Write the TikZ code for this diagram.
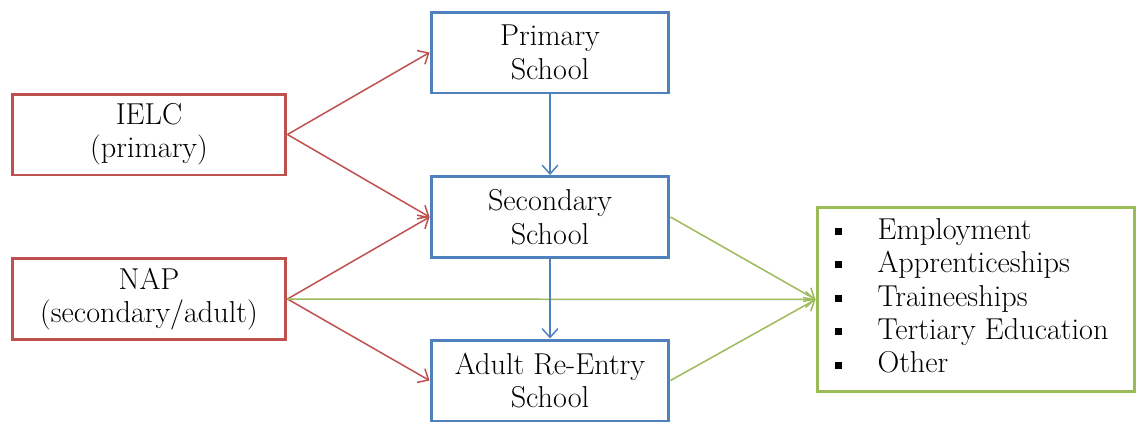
\documentclass[tikz,border=0pt]{standalone}
\usetikzlibrary{arrows.meta}
\definecolor{rd}{RGB}{192,80,77}
\definecolor{bl}{RGB}{79,129,189}
\definecolor{gr}{RGB}{155,187,89}
\begin{document}
\begin{tikzpicture}[x=0.02cm,y=-0.02cm,
  txt/.style={font=\fontsize{17.2}{19}\selectfont},
  box/.style={txt, draw, line width=1.7pt, fill=white, align=center, minimum height=1.62cm, inner sep=2pt},
  redbox/.style={box, draw=rd, minimum width=5.48cm},
  bluebox/.style={box, draw=bl, minimum width=4.76cm},
  greenbox/.style={draw=gr, line width=1.7pt, minimum width=6.36cm, minimum height=3.7cm},
  conn/.style={line width=0.85pt, -{Straight Barb[length=5pt,width=9pt]}},
  rarr/.style={conn, draw=rd},
  barr/.style={conn, draw=bl},
  garr/.style={conn, draw=gr}]
\useasboundingbox (0,0) rectangle (1138,423);
\node[redbox] (ielc) at (149,134.5) {IELC\\(primary)};
\node[redbox] (nap) at (149,299) {NAP\\(secondary/adult)};
\node[bluebox] (prim) at (550,52.5) {Primary\\School};
\node[bluebox] (sec) at (550,217) {Secondary\\School};
\node[bluebox] (adult) at (550,380.5) {Adult Re-Entry\\School};
\node[greenbox] (out) at (976,299.5) {};
\node[txt, anchor=west, inner sep=0pt] (list) at (835,299.5) {%
  \begin{tabular}{@{}l@{\hspace{20pt}}l@{}}
  \rule[2.5pt]{4pt}{4pt} & Employment\\
  \rule[2.5pt]{4pt}{4pt} & Apprenticeships\\
  \rule[2.5pt]{4pt}{4pt} & Traineeships\\
  \rule[2.5pt]{4pt}{4pt} & Tertiary Education\\
  \rule[2.5pt]{4pt}{4pt} & Other
  \end{tabular}};
\draw[rarr] (ielc.east) -- (prim.west);
\draw[rarr] (ielc.east) -- (sec.west);
\draw[rarr] (nap.east) -- (sec.west);
\draw[rarr] (nap.east) -- (adult.west);
\draw[garr] (nap.east) -- (out.west);
\draw[garr] (sec.east) -- (out.west);
\draw[garr] (adult.east) -- (out.west);
\draw[barr] (prim.south) -- (sec.north);
\draw[barr] (sec.south) -- (adult.north);
\end{tikzpicture}
\end{document}
